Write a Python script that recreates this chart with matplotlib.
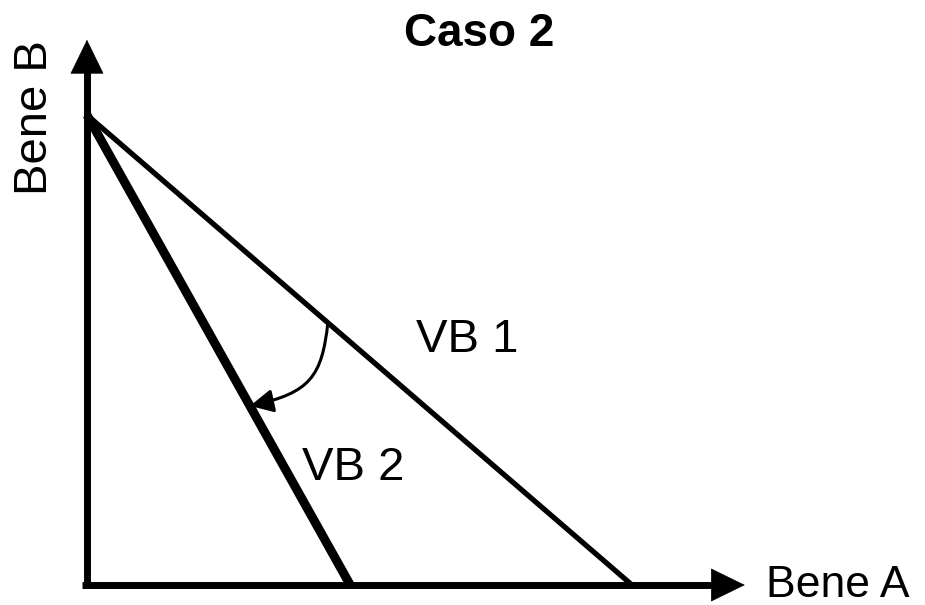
import matplotlib.pyplot as plt
from matplotlib.patches import FancyArrowPatch
from matplotlib.path import Path

plt.rcParams['font.family'] = ['Liberation Sans', 'DejaVu Sans']

# intercetti dei vincoli di bilancio (Bene A, Bene B)
vb1_a = 10.0
vb1_b = 10.0
vb2_a = 4.83
vb2_b = 10.0

# freccia curva: da VB1 a VB2
arrow_from = (4.42, 5.58)
arrow_to = (2.99, 3.81)

# lunghezza degli assi
x_max = 12.07
y_max = 11.6

fig = plt.figure(figsize=(9.25, 6.05), dpi=100)
ax = fig.add_axes([0, 0, 1, 1])
ax.set_xlim(-1.596, 15.376)
ax.set_ylim(-0.4255, 12.447)
ax.axis('off')

# assi con frecce
head = dict(arrowstyle='-|>,head_length=23.5,head_width=11.5', mutation_scale=1,
            lw=0.5, color='black', shrinkA=0, shrinkB=0)
ax.plot([-0.09, x_max - 0.5], [0, 0], color='black', lw=5, solid_capstyle='butt')
ax.plot([0, 0], [-0.07, y_max - 0.5], color='black', lw=5, solid_capstyle='butt')
ax.annotate('', xy=(x_max, 0), xytext=(x_max - 1, 0), arrowprops=head)
ax.annotate('', xy=(0, y_max), xytext=(0, y_max - 1), arrowprops=head)

ax.plot([0, vb1_a], [vb1_b, 0], color='black', lw=3.8, solid_capstyle='butt')
ax.plot([0, vb2_a], [vb2_b, 0], color='black', lw=6.5, solid_capstyle='butt')

# curva a S: scende quasi verticale, poi piega verso sinistra
x0, y0 = arrow_from
x1, y1 = arrow_to
c1 = (x0 - 0.11, y0 - 1.15)
c2 = (x1 + 1.1, y1 + 0.28)
curve = Path([arrow_from, c1, c2, arrow_to],
             [Path.MOVETO, Path.CURVE4, Path.CURVE4, Path.CURVE4])
arr = FancyArrowPatch(path=curve, arrowstyle='-|>,head_length=14,head_width=7',
                      lw=2.2, color='black', transform=ax.transData)
ax.add_patch(arr)

ax.text(6.97, 5.21, 'VB 1', fontsize=34, ha='center', va='center')
ax.text(4.88, 2.49, 'VB 2', fontsize=34, ha='center', va='center')
ax.text(12.45, 0, 'Bene A', fontsize=32, ha='left', va='center')
ax.text(-0.95, 9.94, 'Bene B', fontsize=34, ha='center', va='center', rotation=90)
ax.text(7.19, 11.72, 'Caso 2', fontsize=33, ha='center', va='center', fontweight='bold')

fig.savefig('out.png', dpi=100)
